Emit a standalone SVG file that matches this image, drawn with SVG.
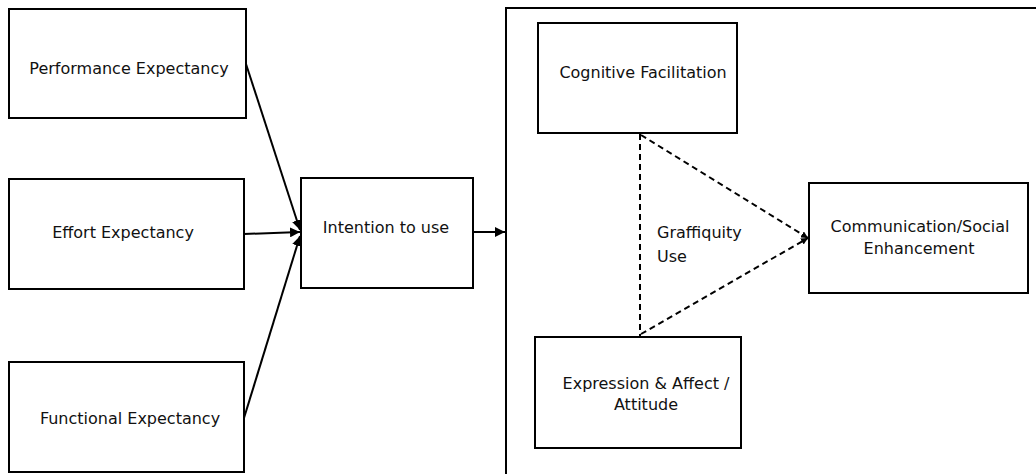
<svg xmlns="http://www.w3.org/2000/svg" width="1036" height="474" viewBox="0 0 1036 474">
<style>
.box{fill:#fff;stroke:#000;stroke-width:2}
.lbl{font-family:"DejaVu Sans",Verdana,sans-serif;font-size:16px;fill:#111;text-anchor:middle}
.lbl-l{font-family:"DejaVu Sans",Verdana,sans-serif;font-size:16px;fill:#111}
.con{fill:none;stroke:#000;stroke-width:2}
.dash{fill:none;stroke:#000;stroke-width:2;stroke-dasharray:6 4}
</style>
<defs>
<marker id="ah" viewBox="0 0 10 10" refX="10" refY="5" markerWidth="5" markerHeight="5" markerUnits="strokeWidth" orient="auto">
<path d="M0,0 L10,5 L0,10 z" fill="#000"/>
</marker>
<marker id="ahs" viewBox="0 0 10 10" refX="10" refY="5" markerWidth="3.5" markerHeight="3.5" markerUnits="strokeWidth" orient="auto">
<path d="M0,0 L10,5 L0,10 z" fill="#000"/>
</marker>
</defs>
<rect width="1036" height="474" fill="#fff"/>
<g id="container">
<path class="con" d="M506,474 L506,8 L1036,8"/>
</g>
<g id="performance">
<rect class="box" x="9" y="9" width="237" height="109"/>
<text class="lbl" x="129" y="74">Performance Expectancy</text>
</g>
<g id="effort">
<rect class="box" x="9" y="179" width="235" height="110"/>
<text class="lbl" x="123" y="238">Effort Expectancy</text>
</g>
<g id="functional">
<rect class="box" x="9" y="362" width="235" height="110"/>
<text class="lbl" x="130" y="424">Functional Expectancy</text>
</g>
<g id="intention">
<rect class="box" x="301" y="178" width="172" height="110"/>
<text class="lbl" x="386" y="233">Intention to use</text>
</g>
<g id="cognitive">
<rect class="box" x="538" y="23" width="199" height="110"/>
<text class="lbl" x="643" y="78">Cognitive Facilitation</text>
</g>
<g id="communication">
<rect class="box" x="809" y="183" width="219" height="110"/>
<text class="lbl" x="920" y="232">Communication/Social</text>
<text class="lbl" x="919" y="254">Enhancement</text>
</g>
<g id="expression">
<rect class="box" x="535" y="337" width="206" height="111"/>
<text class="lbl" x="646" y="389">Expression &amp; Affect /</text>
<text class="lbl" x="646" y="410">Attitude</text>
</g>
<g id="graffiquity">
<text class="lbl-l" x="657" y="238">Graffiquity</text>
<text class="lbl-l" x="657" y="262">Use</text>
</g>
<g id="connectors">
<line class="con" x1="246" y1="64" x2="300" y2="230" marker-end="url(#ah)"/>
<line class="con" x1="244" y1="234" x2="300" y2="232" marker-end="url(#ah)"/>
<line class="con" x1="244" y1="418" x2="300" y2="236" marker-end="url(#ah)"/>
<line class="con" x1="473" y1="232" x2="505" y2="232" marker-end="url(#ah)"/>
<line class="dash" x1="640" y1="134" x2="640" y2="336" stroke-width="1.5"/>
<line class="dash" x1="641" y1="135" x2="808" y2="238" marker-end="url(#ahs)"/>
<line class="dash" x1="641" y1="334" x2="808" y2="238" marker-end="url(#ahs)"/>
</g>
</svg>
